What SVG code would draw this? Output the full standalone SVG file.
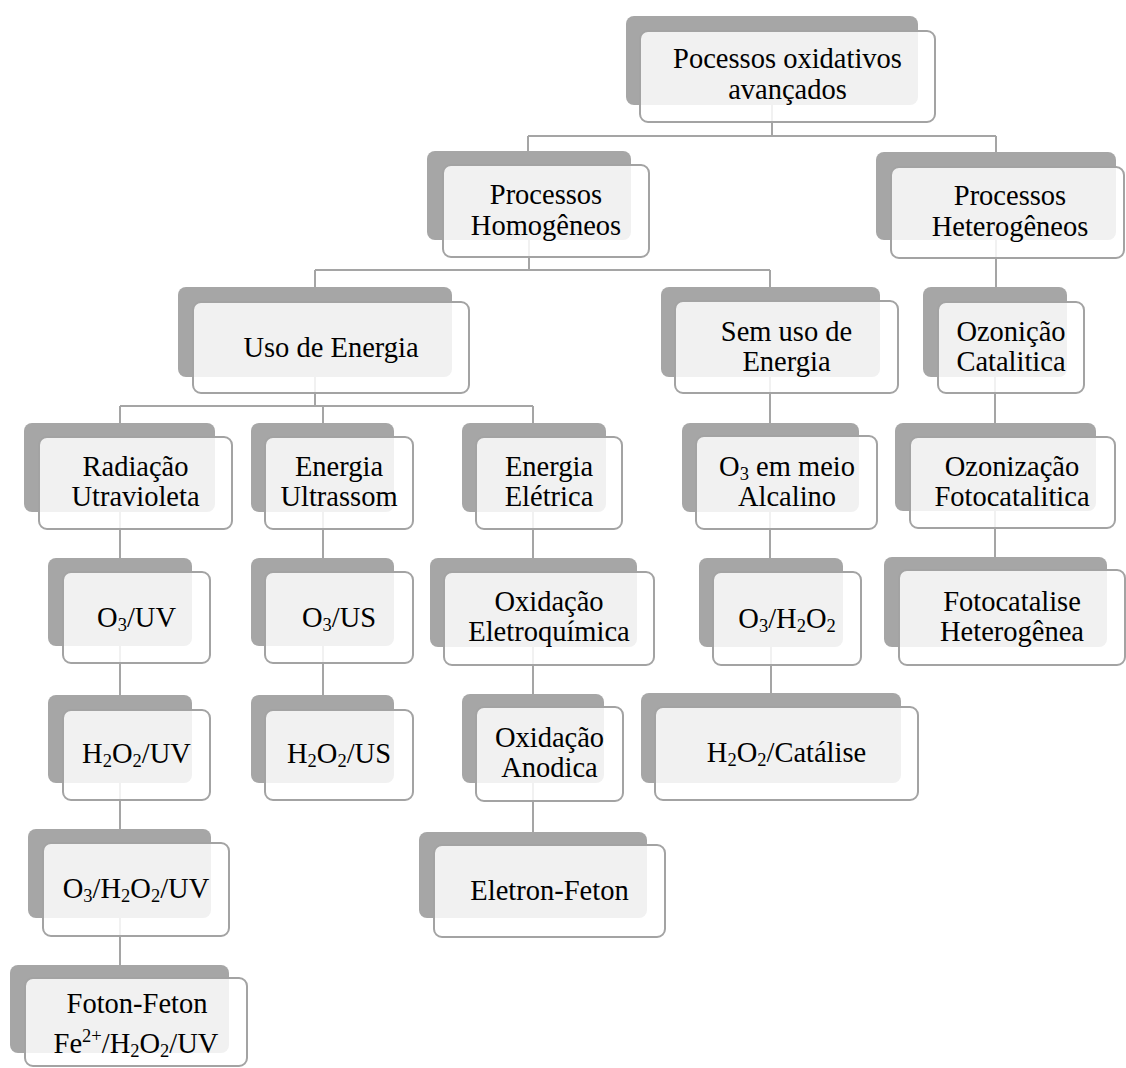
<svg xmlns="http://www.w3.org/2000/svg" width="1126" height="1068" viewBox="0 0 1126 1068" font-family="Liberation Serif, Times New Roman, serif">
<style>
.bg{fill:#a6a6a6}
.fg{fill:#ffffff;fill-opacity:0.84;stroke:#a3a3a3;stroke-width:2}
.c{stroke:#a5a5a5;stroke-width:2;fill:none}
text{font-family:'Liberation Serif','Times New Roman',serif;font-size:28.5px;fill:#000;text-anchor:middle}
.s{font-size:18.5px}
</style>
<rect width="1126" height="1068" fill="#fff"/>
<g id="connectors">
<path class="c" d="M772 105V136M528 136H996M528 136V151M996 136V152"/>
<path class="c" d="M529 240V270M315 270H770M315 270V287M770 270V287"/>
<path class="c" d="M996 240V287M995 377V423M995 511V557"/>
<path class="c" d="M315 377V406M120 406H533M120 406V423M323 406V423M533 406V423"/>
<path class="c" d="M770 377V423M770 512V558M771 647V693"/>
<path class="c" d="M120 512V558M120 646V695M120 783V829M120 918V965"/>
<path class="c" d="M323 512V558M323 646V695"/>
<path class="c" d="M533 512V558M533 647V694M533 783V832"/>
</g>
<g id="n1"><rect class="bg" x="626" y="16" width="292" height="89" rx="8"/><rect class="fg" x="640" y="31" width="295" height="91" rx="8"/><text x="787.5" y="68">Pocessos oxidativos</text><text x="787.5" y="99">avançados</text></g>
<g id="n2"><rect class="bg" x="427" y="151" width="204" height="89" rx="8"/><rect class="fg" x="443" y="165" width="206" height="92" rx="8"/><text x="546" y="204">Processos</text><text x="546" y="235">Homogêneos</text></g>
<g id="n3"><rect class="bg" x="876" y="152" width="240" height="88" rx="8"/><rect class="fg" x="891" y="167" width="233" height="91" rx="8"/><text x="1010" y="205">Processos</text><text x="1010" y="236">Heterogêneos</text></g>
<g id="n4"><rect class="bg" x="178" y="287" width="274" height="90" rx="8"/><rect class="fg" x="193" y="302" width="276" height="91" rx="8"/><text x="331" y="357">Uso de Energia</text></g>
<g id="n5"><rect class="bg" x="661" y="287" width="219" height="90" rx="8"/><rect class="fg" x="675" y="301" width="223" height="92" rx="8"/><text x="786.5" y="341">Sem uso de</text><text x="786.5" y="371">Energia</text></g>
<g id="n6"><rect class="bg" x="923" y="287" width="144" height="90" rx="8"/><rect class="fg" x="938" y="302" width="146" height="91" rx="8"/><text x="1011" y="341">Ozonição</text><text x="1011" y="371">Catalitica</text></g>
<g id="n7"><rect class="bg" x="24" y="423" width="191" height="89" rx="8"/><rect class="fg" x="39" y="437" width="193" height="92" rx="8"/><text x="135.5" y="476">Radiação</text><text x="135.5" y="506">Utravioleta</text></g>
<g id="n8"><rect class="bg" x="251" y="423" width="143" height="89" rx="8"/><rect class="fg" x="265" y="437" width="148" height="92" rx="8"/><text x="339" y="476">Energia</text><text x="339" y="506">Ultrassom</text></g>
<g id="n9"><rect class="bg" x="462" y="423" width="144" height="89" rx="8"/><rect class="fg" x="476" y="437" width="146" height="92" rx="8"/><text x="549" y="476">Energia</text><text x="549" y="506">Elétrica</text></g>
<g id="n10"><rect class="bg" x="682" y="423" width="177" height="89" rx="8"/><rect class="fg" x="696" y="436" width="181" height="93" rx="8"/><text x="787" y="476">O<tspan class="s" dy="4">3</tspan><tspan dy="-4"> em meio</tspan></text><text x="787" y="506">Alcalino</text></g>
<g id="n11"><rect class="bg" x="895" y="423" width="201" height="88" rx="8"/><rect class="fg" x="910" y="437" width="205" height="91" rx="8"/><text x="1012" y="476">Ozonização</text><text x="1012" y="506">Fotocatalitica</text></g>
<g id="n12"><rect class="bg" x="48" y="558" width="144" height="88" rx="8"/><rect class="fg" x="63" y="572" width="147" height="91" rx="8"/><text x="136.5" y="627">O<tspan class="s" dy="4">3</tspan><tspan dy="-4">/UV</tspan></text></g>
<g id="n13"><rect class="bg" x="251" y="558" width="143" height="88" rx="8"/><rect class="fg" x="265" y="572" width="148" height="91" rx="8"/><text x="339" y="627">O<tspan class="s" dy="4">3</tspan><tspan dy="-4">/US</tspan></text></g>
<g id="n14"><rect class="bg" x="430" y="558" width="207" height="89" rx="8"/><rect class="fg" x="444" y="572" width="210" height="93" rx="8"/><text x="549" y="611">Oxidação</text><text x="549" y="641">Eletroquímica</text></g>
<g id="n15"><rect class="bg" x="699" y="558" width="144" height="89" rx="8"/><rect class="fg" x="713" y="572" width="148" height="93" rx="8"/><text x="787" y="628">O<tspan class="s" dy="4">3</tspan><tspan dy="-4">/H</tspan><tspan class="s" dy="4">2</tspan><tspan dy="-4">O</tspan><tspan class="s" dy="4">2</tspan></text></g>
<g id="n16"><rect class="bg" x="884" y="557" width="223" height="90" rx="8"/><rect class="fg" x="899" y="570" width="226" height="95" rx="8"/><text x="1012" y="611">Fotocatalise</text><text x="1012" y="641">Heterogênea</text></g>
<g id="n17"><rect class="bg" x="48" y="695" width="144" height="88" rx="8"/><rect class="fg" x="63" y="710" width="147" height="90" rx="8"/><text x="136.5" y="763">H<tspan class="s" dy="4">2</tspan><tspan dy="-4">O</tspan><tspan class="s" dy="4">2</tspan><tspan dy="-4">/UV</tspan></text></g>
<g id="n18"><rect class="bg" x="251" y="695" width="143" height="88" rx="8"/><rect class="fg" x="265" y="710" width="148" height="90" rx="8"/><text x="339" y="763">H<tspan class="s" dy="4">2</tspan><tspan dy="-4">O</tspan><tspan class="s" dy="4">2</tspan><tspan dy="-4">/US</tspan></text></g>
<g id="n19"><rect class="bg" x="462" y="694" width="142" height="89" rx="8"/><rect class="fg" x="476" y="707" width="147" height="94" rx="8"/><text x="549.5" y="747">Oxidação</text><text x="549.5" y="777">Anodica</text></g>
<g id="n20"><rect class="bg" x="641" y="693" width="260" height="90" rx="8"/><rect class="fg" x="655" y="707" width="263" height="93" rx="8"/><text x="786.5" y="762">H<tspan class="s" dy="4">2</tspan><tspan dy="-4">O</tspan><tspan class="s" dy="4">2</tspan><tspan dy="-4">/Catálise</tspan></text></g>
<g id="n21"><rect class="bg" x="28" y="829" width="183" height="89" rx="8"/><rect class="fg" x="43" y="843" width="186" height="93" rx="8"/><text x="136" y="898">O<tspan class="s" dy="4">3</tspan><tspan dy="-4">/H</tspan><tspan class="s" dy="4">2</tspan><tspan dy="-4">O</tspan><tspan class="s" dy="4">2</tspan><tspan dy="-4">/UV</tspan></text></g>
<g id="n22"><rect class="bg" x="419" y="832" width="228" height="86" rx="8"/><rect class="fg" x="434" y="845" width="231" height="92" rx="8"/><text x="549.5" y="900">Eletron-Feton</text></g>
<g id="n23"><rect class="bg" x="10" y="965" width="219" height="88" rx="8"/><rect class="fg" x="25" y="978" width="222" height="88" rx="8"/><text x="137" y="1013">Foton-Feton</text><text x="136" y="1053">Fe<tspan class="s" dy="-11">2+</tspan><tspan dy="11">/H</tspan><tspan class="s" dy="4">2</tspan><tspan dy="-4">O</tspan><tspan class="s" dy="4">2</tspan><tspan dy="-4">/UV</tspan></text></g>
</svg>
